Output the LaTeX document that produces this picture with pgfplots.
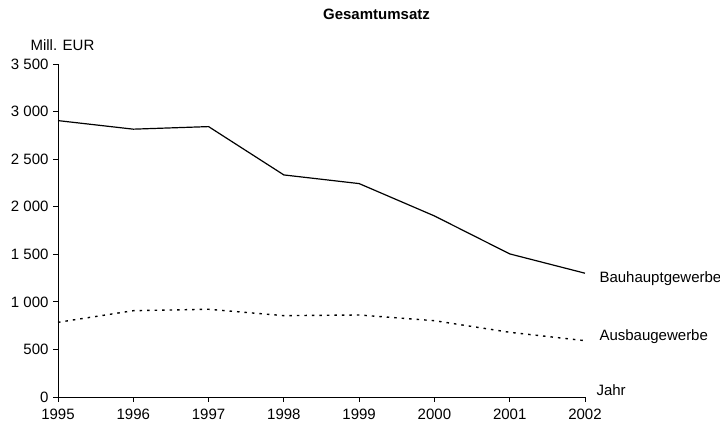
\documentclass[border=0pt]{standalone}
\usepackage{pgfplots}
\pgfplotsset{compat=1.18}
\usepackage{fontspec}
\setmainfont{Liberation Sans}
\newcommand\fs{\fontsize{15}{18}\selectfont}

\begin{document}
\begin{tikzpicture}
% picture frame: 720 x 427, axis box at (58,64)-(585,397) in pixels
\path[use as bounding box] (-58pt,-30pt) rectangle (662pt,397pt);
\begin{axis}[
    scale only axis,
    width=527pt, height=333pt,
    xmin=1995, xmax=2002,
    ymin=0, ymax=3500,
    axis lines=left,
    axis line style={-, line width=0.8pt},
    tick align=outside,
    major tick length=5pt,
    tick style={black, line width=0.8pt},
    xtick={1995,1996,...,2002},
    ytick={0,500,...,3500},
    x tick label style={/pgf/number format/1000 sep={}},
    y tick label style={/pgf/number format/1000 sep={\ }},
    /pgf/number format/assume math mode=true,
    tick label style={font=\fs},
    xticklabel style={yshift=-3pt},
    yticklabel style={xshift=-1pt},
    clip=false,
]
\addplot[black, line width=1.2pt] coordinates {
    (1995,2905) (1996,2815) (1997,2842) (1998,2334)
    (1999,2243) (2000,1903) (2001,1504) (2002,1301)
};
\addplot[black, line width=1.4pt, dash pattern=on 2.5pt off 5pt] coordinates {
    (1995,785) (1996,907) (1997,922) (1998,855)
    (1999,862) (2000,802) (2001,680) (2002,592)
};
\node[anchor=west, font=\fs] at (axis cs:2002,1301) [xshift=11pt, yshift=-5pt] {Bauhauptgewerbe};
\node[anchor=west, font=\fs] at (axis cs:2002,592) [xshift=11pt, yshift=4pt] {Ausbaugewerbe};
\node[anchor=west, font=\fs] at (rel axis cs:1,0) [xshift=8pt, yshift=7pt] {Jahr};
\node[anchor=west, font=\fs] at (rel axis cs:0,1) [xshift=-31pt, yshift=19pt] {Mill. EUR};
\node[font=\fs\bfseries] at (rel axis cs:0.5,1) [xshift=55pt, yshift=50pt] {Gesamtumsatz};
\end{axis}
\end{tikzpicture}
\end{document}
